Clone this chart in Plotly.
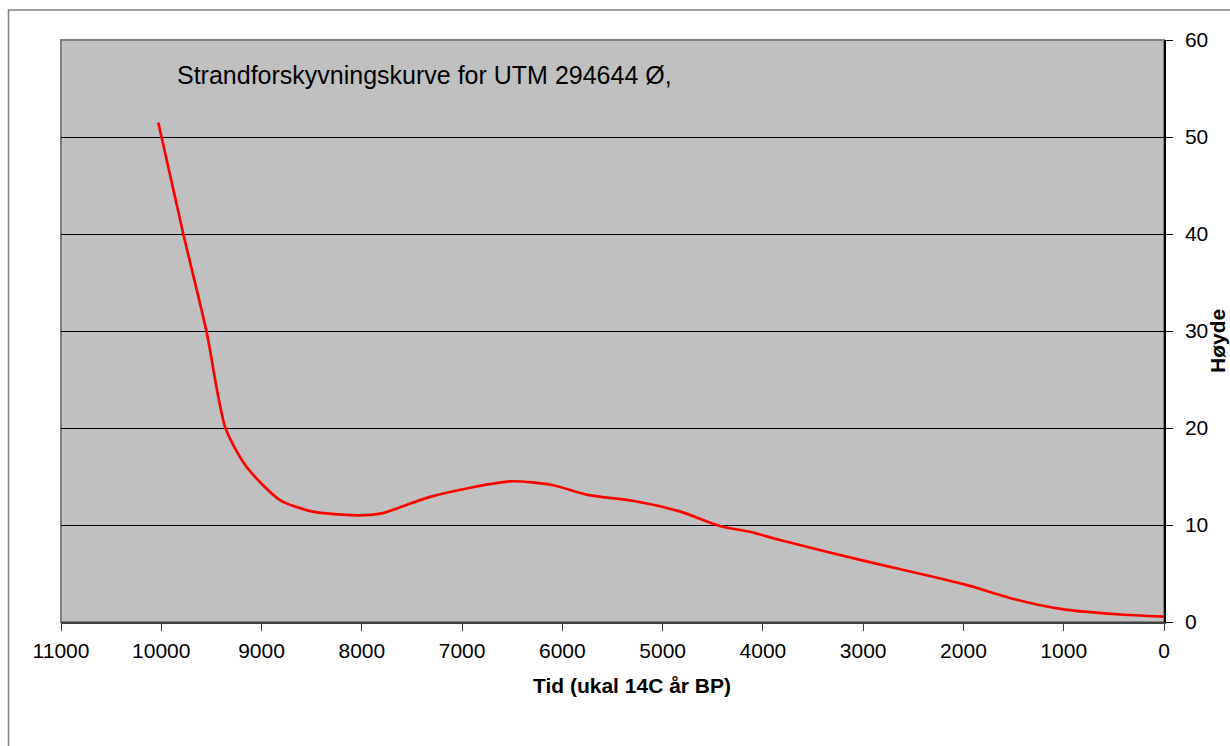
import plotly.graph_objects as go

# Data
tid = [10030, 9780, 9550, 9360, 9150, 8820, 8500, 8050, 7800, 7320, 6520, 6090,
       5750, 5300, 4830, 4430, 4130, 3830, 3030, 2000, 1470, 1000, 470, 0]
hoyde = [51.5, 40.0, 30.0, 20.0, 16.0, 12.6, 11.4, 11.0, 11.2, 12.9, 14.5, 14.1,
         13.1, 12.5, 11.4, 9.9, 9.3, 8.45, 6.4, 3.9, 2.3, 1.3, 0.8, 0.55]

x_ticks = list(range(0, 11001, 1000))
y_ticks = list(range(0, 61, 10))

title_text = "Strandforskyvningskurve for UTM 294644 Ø,"
x_title = "Tid (ukal 14C år BP)"
y_title = "Høyde"

FONT = "Arial, Liberation Sans, sans-serif"

W, H = 1230, 746
# plot area in page pixels
L, R, T, B = 61, 1164, 40, 622


def px(xp):
    return (xp - L) / (R - L)


def py(yp):
    return (B - yp) / (B - T)


fig = go.Figure()
fig.add_trace(go.Scatter(
    x=tid, y=hoyde, mode="lines",
    line=dict(color="#FF0000", width=2.7, shape="spline", smoothing=0.7),
    showlegend=False, hoverinfo="x+y",
))

fig.update_layout(
    width=W, height=H,
    margin=dict(l=L, r=W - R, t=T, b=H - B, pad=0),
    paper_bgcolor="white",
    plot_bgcolor="#C0C0C0",
    font=dict(family=FONT, size=21, color="black"),
    showlegend=False,
)

fig.update_xaxes(
    range=[11000, 0], tickvals=x_ticks, ticktext=[str(v) for v in x_ticks],
    showgrid=False, zeroline=False,
    showline=True, linecolor="#404040", linewidth=1.5,
    ticks="outside", ticklen=7, tickcolor="#404040", tickwidth=1,
    tickfont=dict(size=21, family=FONT, color="black"),
    ticklabelstandoff=2,
)
fig.update_yaxes(
    range=[0, 60], tickvals=y_ticks, side="right",
    showgrid=True, gridcolor="#000000", gridwidth=1,
    zeroline=False,
    showline=True, linecolor="#000000", linewidth=1.5,
    ticks="outside", ticklen=7, tickcolor="#000000", tickwidth=1,
    tickfont=dict(size=21, family=FONT, color="black"),
    ticklabelstandoff=8,
)

# Plot-area border (gray) and outer chart border
fig.add_shape(type="rect", xref="paper", yref="paper", x0=0, x1=1, y0=0, y1=1,
              line=dict(color="#808080", width=2), layer="below")
fig.add_shape(type="rect", xref="paper", yref="paper",
              x0=px(8.5), x1=px(1260), y0=py(780), y1=py(10),
              line=dict(color="#808080", width=1.5))

fig.add_annotation(text=title_text, xref="paper", yref="paper",
                   x=px(175), y=py(75), xanchor="left", yanchor="middle",
                   showarrow=False, font=dict(size=25, family=FONT, color="black"))
fig.add_annotation(text="<b>" + x_title + "</b>", xref="paper", yref="paper",
                   x=px(632), y=py(685), xanchor="center", yanchor="middle",
                   showarrow=False, font=dict(size=21, family=FONT, color="black"))
fig.add_annotation(text="<b>" + y_title + "</b>", xref="paper", yref="paper",
                   x=px(1218), y=py(341), xanchor="center", yanchor="middle",
                   textangle=-90, showarrow=False,
                   font=dict(size=21, family=FONT, color="black"))

fig.write_html(
    "out.html",
    config={"displayModeBar": False},
    post_script="document.body.style.margin='0';document.body.style.overflow='hidden';",
)
